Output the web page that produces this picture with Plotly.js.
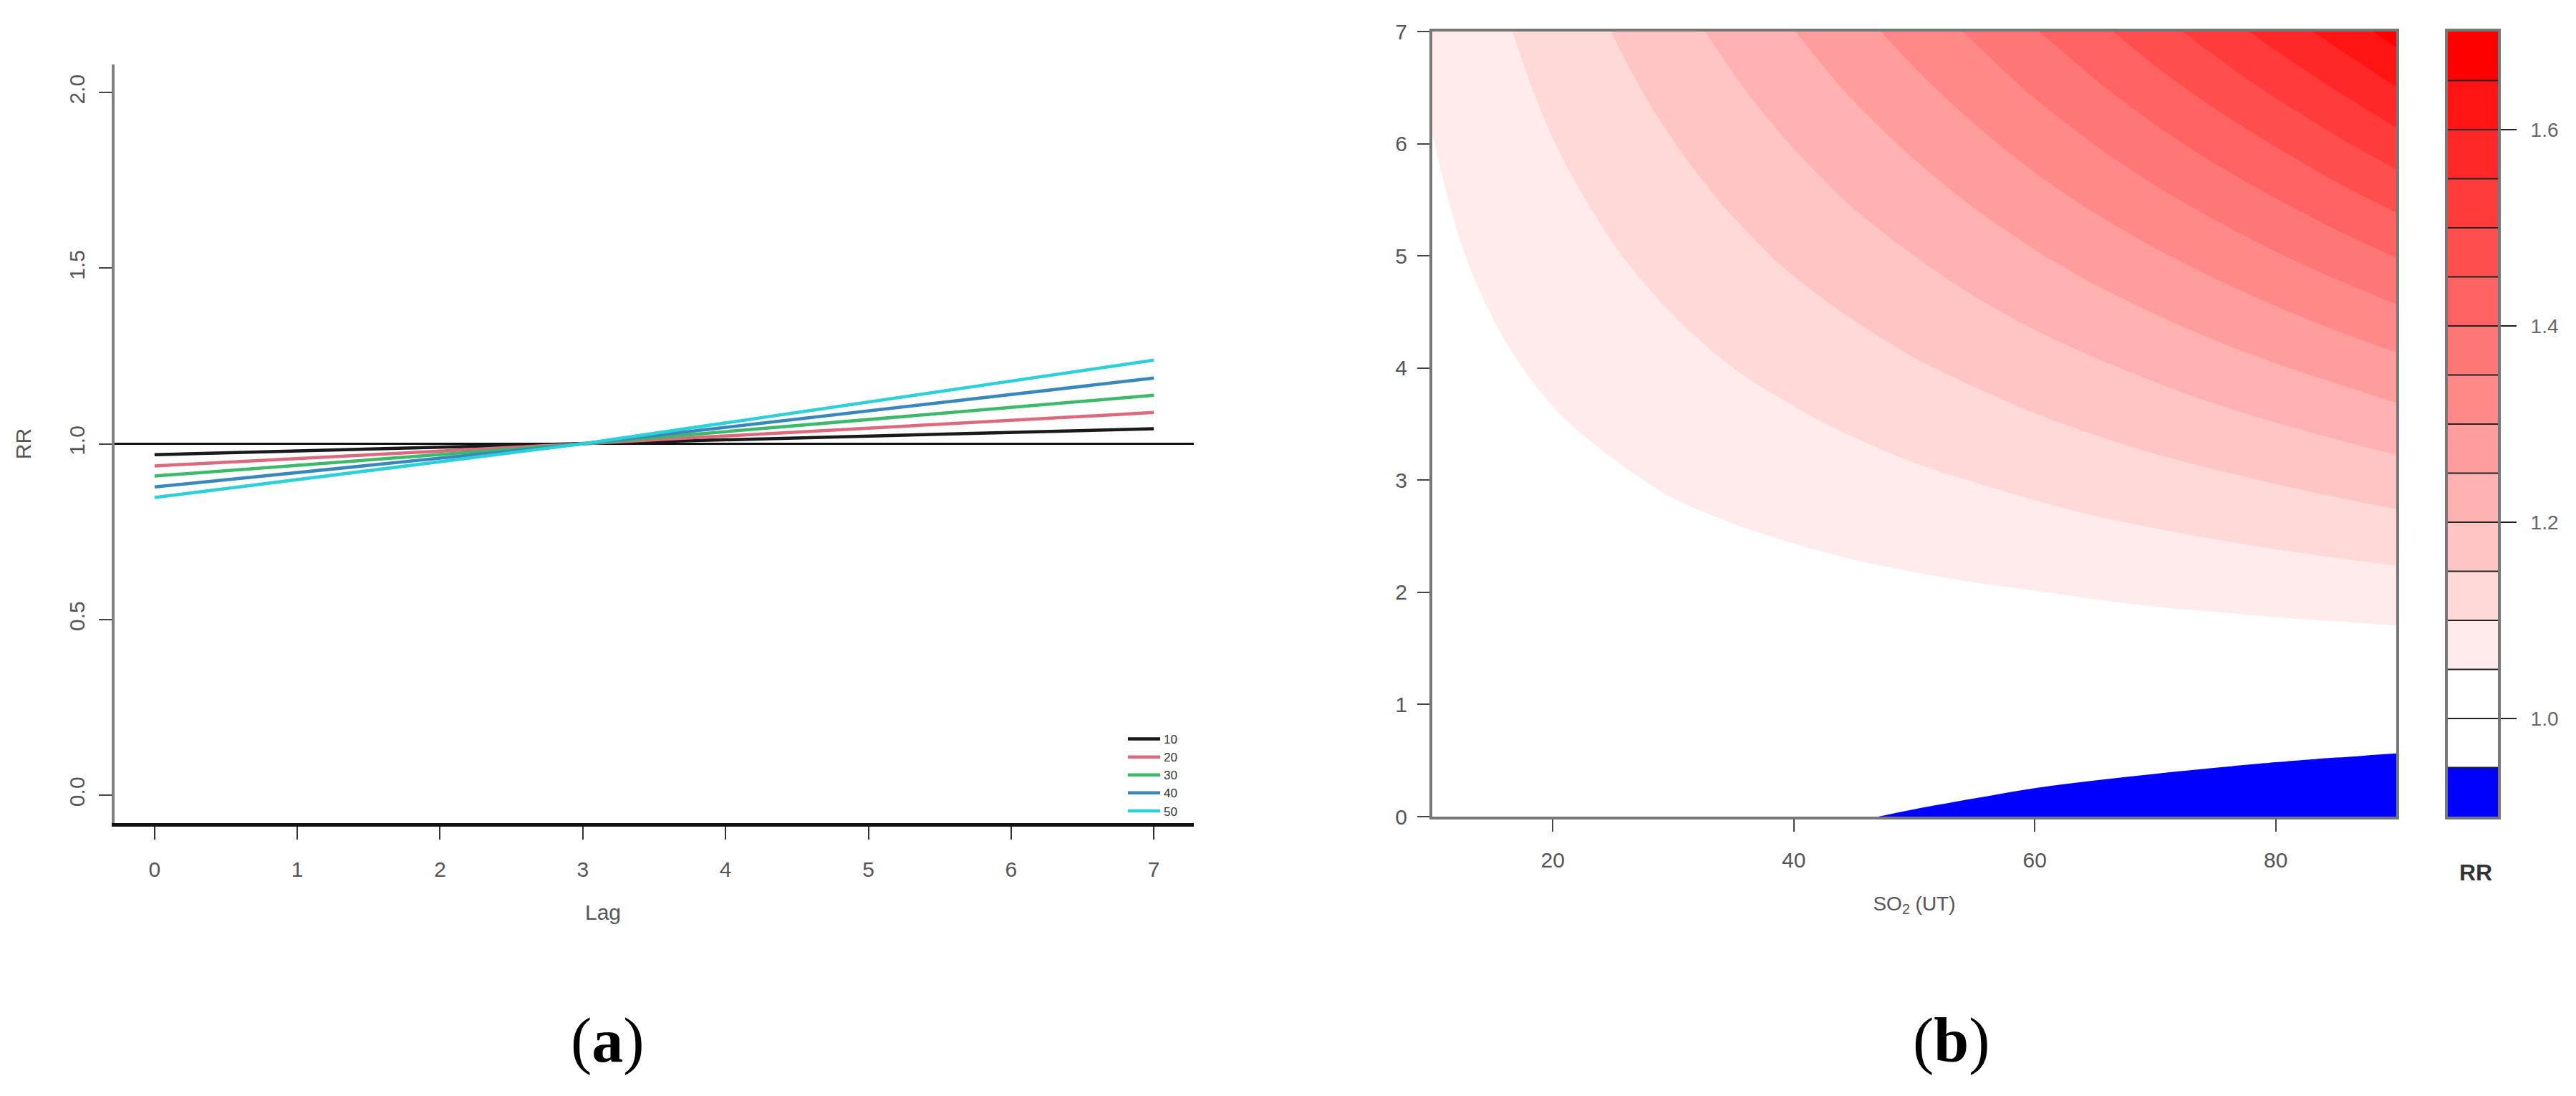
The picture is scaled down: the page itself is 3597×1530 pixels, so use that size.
<!DOCTYPE html>
<html>
<head>
<meta charset="utf-8">
<script src="https://cdn.plot.ly/plotly-3.0.1.min.js"></script>
<style>
html,body{margin:0;padding:0;background:#ffffff;}
#chart{width:3597px;height:1530px;}
</style>
</head>
<body>
<div id="chart"></div>
<script>
// ---------- Panel (a): lag-response lines ----------
const lagPoints = [0, 3, 7];
const seriesNames = ['10', '20', '30', '40', '50'];
const rr10 = [0.969, 1.000, 1.043];
const rr20 = [0.937, 1.000, 1.089];
const rr30 = [0.908, 1.000, 1.138];
const rr40 = [0.877, 1.000, 1.187];
const rr50 = [0.847, 1.000, 1.238];
const seriesColors = ['#1a1a1a', '#dc6a7c', '#3cba69', '#3888bd', '#2bd0d8'];
const refRR = 1.0;
const lagTicks = [0, 1, 2, 3, 4, 5, 6, 7];
const rrTicks = [0, 0.5, 1.0, 1.5, 2.0];
const rrTickText = ['0.0', '0.5', '1.0', '1.5', '2.0'];

// ---------- Panel (b): exposure-lag-response surface ----------
const so2 = [10, 15, 20, 25, 30, 35, 40, 45, 50, 55, 60, 65, 70, 75, 80, 85, 90];
const lagGrid = [0, 0.5, 1, 1.5, 2, 2.5, 3, 3.5, 4, 4.5, 5, 5.5, 6, 6.5, 7];
const rrLag0   = [0.989, 0.983, 0.978, 0.973, 0.968, 0.962, 0.957, 0.952, 0.947, 0.942, 0.936, 0.931, 0.926, 0.921, 0.915, 0.910, 0.904];
const rrLag0_5 = [0.9936, 0.9904, 0.9875, 0.9845, 0.9815, 0.9786, 0.9756, 0.9726, 0.9697, 0.9666, 0.9636, 0.9605, 0.9574, 0.9543, 0.9511, 0.9479, 0.9446];
const rrLag1   = [0.999, 0.998, 0.997, 0.996, 0.996, 0.995, 0.994, 0.994, 0.993, 0.992, 0.991, 0.991, 0.990, 0.989, 0.989, 0.988, 0.987];
const rrLag1_5 = [1.0035, 1.0052, 1.0068, 1.0084, 1.0101, 1.0117, 1.0134, 1.0151, 1.0167, 1.0184, 1.0202, 1.0219, 1.0237, 1.0255, 1.0274, 1.0292, 1.0312];
const rrLag2   = [1.008, 1.013, 1.017, 1.021, 1.025, 1.029, 1.033, 1.037, 1.041, 1.045, 1.049, 1.054, 1.059, 1.063, 1.068, 1.072, 1.077];
const rrLag2_5 = [1.0135, 1.0202, 1.0265, 1.0329, 1.0395, 1.0460, 1.0526, 1.0593, 1.0661, 1.0730, 1.0801, 1.0873, 1.0947, 1.1021, 1.1097, 1.1175, 1.1257];
const rrLag3   = [1.018, 1.028, 1.037, 1.045, 1.055, 1.064, 1.073, 1.082, 1.092, 1.101, 1.111, 1.122, 1.132, 1.142, 1.153, 1.164, 1.176];
const rrLag3_5 = [1.0235, 1.0354, 1.0467, 1.0580, 1.0698, 1.0814, 1.0934, 1.1056, 1.1178, 1.1305, 1.1436, 1.1568, 1.1705, 1.1844, 1.1986, 1.2134, 1.2289];
const rrLag4   = [1.029, 1.043, 1.057, 1.071, 1.085, 1.100, 1.114, 1.129, 1.145, 1.160, 1.177, 1.193, 1.210, 1.228, 1.246, 1.264, 1.284];
const rrLag4_5 = [1.0337, 1.0508, 1.0671, 1.0837, 1.1009, 1.1180, 1.1358, 1.1538, 1.1721, 1.1911, 1.2108, 1.2308, 1.2516, 1.2728, 1.2947, 1.3174, 1.3415];
const rrLag5   = [1.039, 1.059, 1.078, 1.097, 1.117, 1.137, 1.158, 1.179, 1.200, 1.223, 1.246, 1.270, 1.294, 1.319, 1.346, 1.373, 1.402];
const rrLag5_5 = [1.0440, 1.0665, 1.0881, 1.1100, 1.1330, 1.1559, 1.1797, 1.2041, 1.2290, 1.2549, 1.2819, 1.3096, 1.3383, 1.3678, 1.3985, 1.4305, 1.4645];
const rrLag6   = [1.049, 1.074, 1.099, 1.123, 1.149, 1.175, 1.202, 1.230, 1.258, 1.288, 1.319, 1.351, 1.384, 1.418, 1.453, 1.491, 1.530];
const rrLag6_5 = [1.0544, 1.0824, 1.1094, 1.1370, 1.1660, 1.1950, 1.2254, 1.2566, 1.2886, 1.3222, 1.3573, 1.3933, 1.4311, 1.4699, 1.5106, 1.5532, 1.5987];
const rrLag7   = [1.060, 1.090, 1.120, 1.151, 1.183, 1.215, 1.249, 1.284, 1.320, 1.357, 1.397, 1.437, 1.480, 1.524, 1.570, 1.618, 1.670];
const levels = [0.90, 0.95, 1.00, 1.05, 1.10, 1.15, 1.20, 1.25, 1.30, 1.35, 1.40, 1.45, 1.50, 1.55, 1.60, 1.65, 1.70];
const keyTicks = [1.0, 1.2, 1.4, 1.6];
const keyTickText = ['1.0', '1.2', '1.4', '1.6'];
const so2Ticks = [20, 40, 60, 80];
const lagTicksB = [0, 1, 2, 3, 4, 5, 6, 7];

// ---------- helpers ----------
const W = 3597, H = 1530;
const px = v => v / W;
const py = v => 1 - v / H;
const FONT = 'Liberation Sans, Arial, sans-serif';

const rrGrid = [rrLag0, rrLag0_5, rrLag1, rrLag1_5, rrLag2, rrLag2_5, rrLag3, rrLag3_5,
                rrLag4, rrLag4_5, rrLag5, rrLag5_5, rrLag6, rrLag6_5, rrLag7];
const nBands = levels.length - 1;
const step = Math.round((levels[1] - levels[0]) * 1000) / 1000;
const colorscale = [
  [0, 'rgb(0,0,255)'],
  [1 / (nBands - 1), 'rgb(255,255,255)'],
  [2 / (nBands - 1), 'rgb(255,255,255)'],
  [1, 'rgb(255,0,0)']
];

const traces = [];
const seriesData = [rr10, rr20, rr30, rr40, rr50];
seriesData.forEach((vals, i) => {
  traces.push({
    type: 'scatter', mode: 'lines', x: lagPoints, y: vals, name: seriesNames[i],
    line: {color: seriesColors[i], width: 4.5}, xaxis: 'x', yaxis: 'y', hoverinfo: 'skip'
  });
});

traces.push({
  type: 'contour', x: so2, y: lagGrid, z: rrGrid, xaxis: 'x2', yaxis: 'y2',
  autocontour: false,
  contours: {start: levels[1], end: levels[levels.length - 2], size: step, coloring: 'fill', showlines: false},
  line: {width: 0}, colorscale: colorscale, showscale: false, showlegend: false, hoverinfo: 'skip'
});

// colour key built from the level breaks
const mids = levels.slice(0, -1).map((l, i) => (l + levels[i + 1]) / 2);
traces.push({
  type: 'heatmap', x: [0.5], y: mids, z: mids.map(m => [m]), zmin: mids[0], zmax: mids[mids.length - 1],
  colorscale: colorscale, showscale: false, xaxis: 'x3', yaxis: 'y3', hoverinfo: 'skip', showlegend: false
});
const sepX = [], sepY = [];
levels.slice(1, -1).forEach(l => { sepX.push(0, 1, null); sepY.push(l, l, null); });
traces.push({
  type: 'scatter', mode: 'lines', x: sepX, y: sepY, xaxis: 'x3', yaxis: 'y3',
  line: {color: '#222', width: 2}, showlegend: false, hoverinfo: 'skip'
});

const tickFont = {family: FONT, size: 30, color: '#555'};

const layout = {
  width: W, height: H,
  margin: {l: 0, r: 0, t: 0, b: 0},
  paper_bgcolor: '#ffffff', plot_bgcolor: '#ffffff',
  showlegend: true,
  legend: {
    x: px(1570), y: py(1014), xanchor: 'left', yanchor: 'top',
    bgcolor: 'rgba(0,0,0,0)', font: {family: FONT, size: 17, color: '#333'},
    itemwidth: 45, tracegroupgap: 0
  },
  xaxis: {
    domain: [px(160), px(1667)], range: [-0.28, 7.28], anchor: 'y',
    tickvals: lagTicks, ticks: 'outside', ticklen: 18, tickwidth: 2, tickcolor: '#333',
    showline: true, linecolor: '#111', linewidth: 5, showgrid: false, zeroline: false,
    tickfont: tickFont, ticklabelstandoff: 16
  },
  yaxis: {
    domain: [py(1149), py(90)], range: [-0.08, 2.08], anchor: 'x',
    tickvals: rrTicks, ticktext: rrTickText, tickangle: -90,
    ticks: 'outside', ticklen: 18, tickwidth: 2, tickcolor: '#444',
    showline: true, linecolor: '#808080', linewidth: 4, showgrid: false, zeroline: false,
    tickfont: tickFont, ticklabelstandoff: 8,
    title: {text: 'RR', font: {family: FONT, size: 30, color: '#555'}, standoff: 40}
  },
  xaxis2: {
    domain: [px(2000), px(3346)], range: [10, 90], anchor: 'y2',
    tickvals: so2Ticks, ticks: 'outside', ticklen: 17, tickwidth: 2, tickcolor: '#444',
    showline: true, mirror: true, linecolor: '#777', linewidth: 4, showgrid: false, zeroline: false,
    tickfont: tickFont, ticklabelstandoff: 14,
    title: {text: 'SO<sub>2</sub> (UT)', font: {family: FONT, size: 28, color: '#555'}, standoff: 36}
  },
  yaxis2: {
    domain: [py(1140), py(44)], range: [0, 7], anchor: 'x2',
    tickvals: lagTicksB, ticks: 'outside', ticklen: 17, tickwidth: 2, tickcolor: '#444',
    showline: true, mirror: true, linecolor: '#777', linewidth: 4, showgrid: false, zeroline: false,
    tickfont: tickFont, ticklabelstandoff: 8
  },
  xaxis3: {
    domain: [px(3418), px(3488)], range: [0, 1], anchor: 'y3',
    showticklabels: false, ticks: '', showgrid: false, zeroline: false,
    showline: true, mirror: true, linecolor: '#777', linewidth: 4
  },
  yaxis3: {
    domain: [py(1140), py(44)], range: [levels[0], levels[levels.length - 1]], anchor: 'x3', side: 'right',
    tickvals: keyTicks, ticktext: keyTickText, ticks: 'outside', ticklen: 22, tickwidth: 2, tickcolor: '#222',
    showline: true, mirror: true, linecolor: '#777', linewidth: 4, showgrid: false, zeroline: false,
    tickfont: {family: FONT, size: 28, color: '#666'}, ticklabelstandoff: 14
  },
  shapes: [{
    type: 'line', xref: 'x domain', x0: 0, x1: 1, yref: 'y', y0: refRR, y1: refRR,
    line: {color: '#111', width: 3}, layer: 'below'
  }],
  annotations: [
    {text: 'Lag', x: px(842), y: py(1273), xref: 'paper', yref: 'paper', showarrow: false,
     xanchor: 'center', yanchor: 'middle', font: {family: FONT, size: 30, color: '#555'}},
    {text: '<b>RR</b>', x: px(3457), y: py(1218), xref: 'paper', yref: 'paper', showarrow: false,
     xanchor: 'center', yanchor: 'middle', font: {family: FONT, size: 32, color: '#333'}},
    {text: '(<b>a</b>)', x: px(848), y: py(1452), xref: 'paper', yref: 'paper', showarrow: false,
     xanchor: 'center', yanchor: 'middle', font: {family: 'Liberation Serif, Times New Roman, serif', size: 88, color: '#000'}},
    {text: '(<b>b</b>)', x: px(2725), y: py(1452), xref: 'paper', yref: 'paper', showarrow: false,
     xanchor: 'center', yanchor: 'middle', font: {family: 'Liberation Serif, Times New Roman, serif', size: 88, color: '#000'}}
  ]
};

Plotly.newPlot('chart', traces, layout, {staticPlot: true, displayModeBar: false});
</script>
</body>
</html>
